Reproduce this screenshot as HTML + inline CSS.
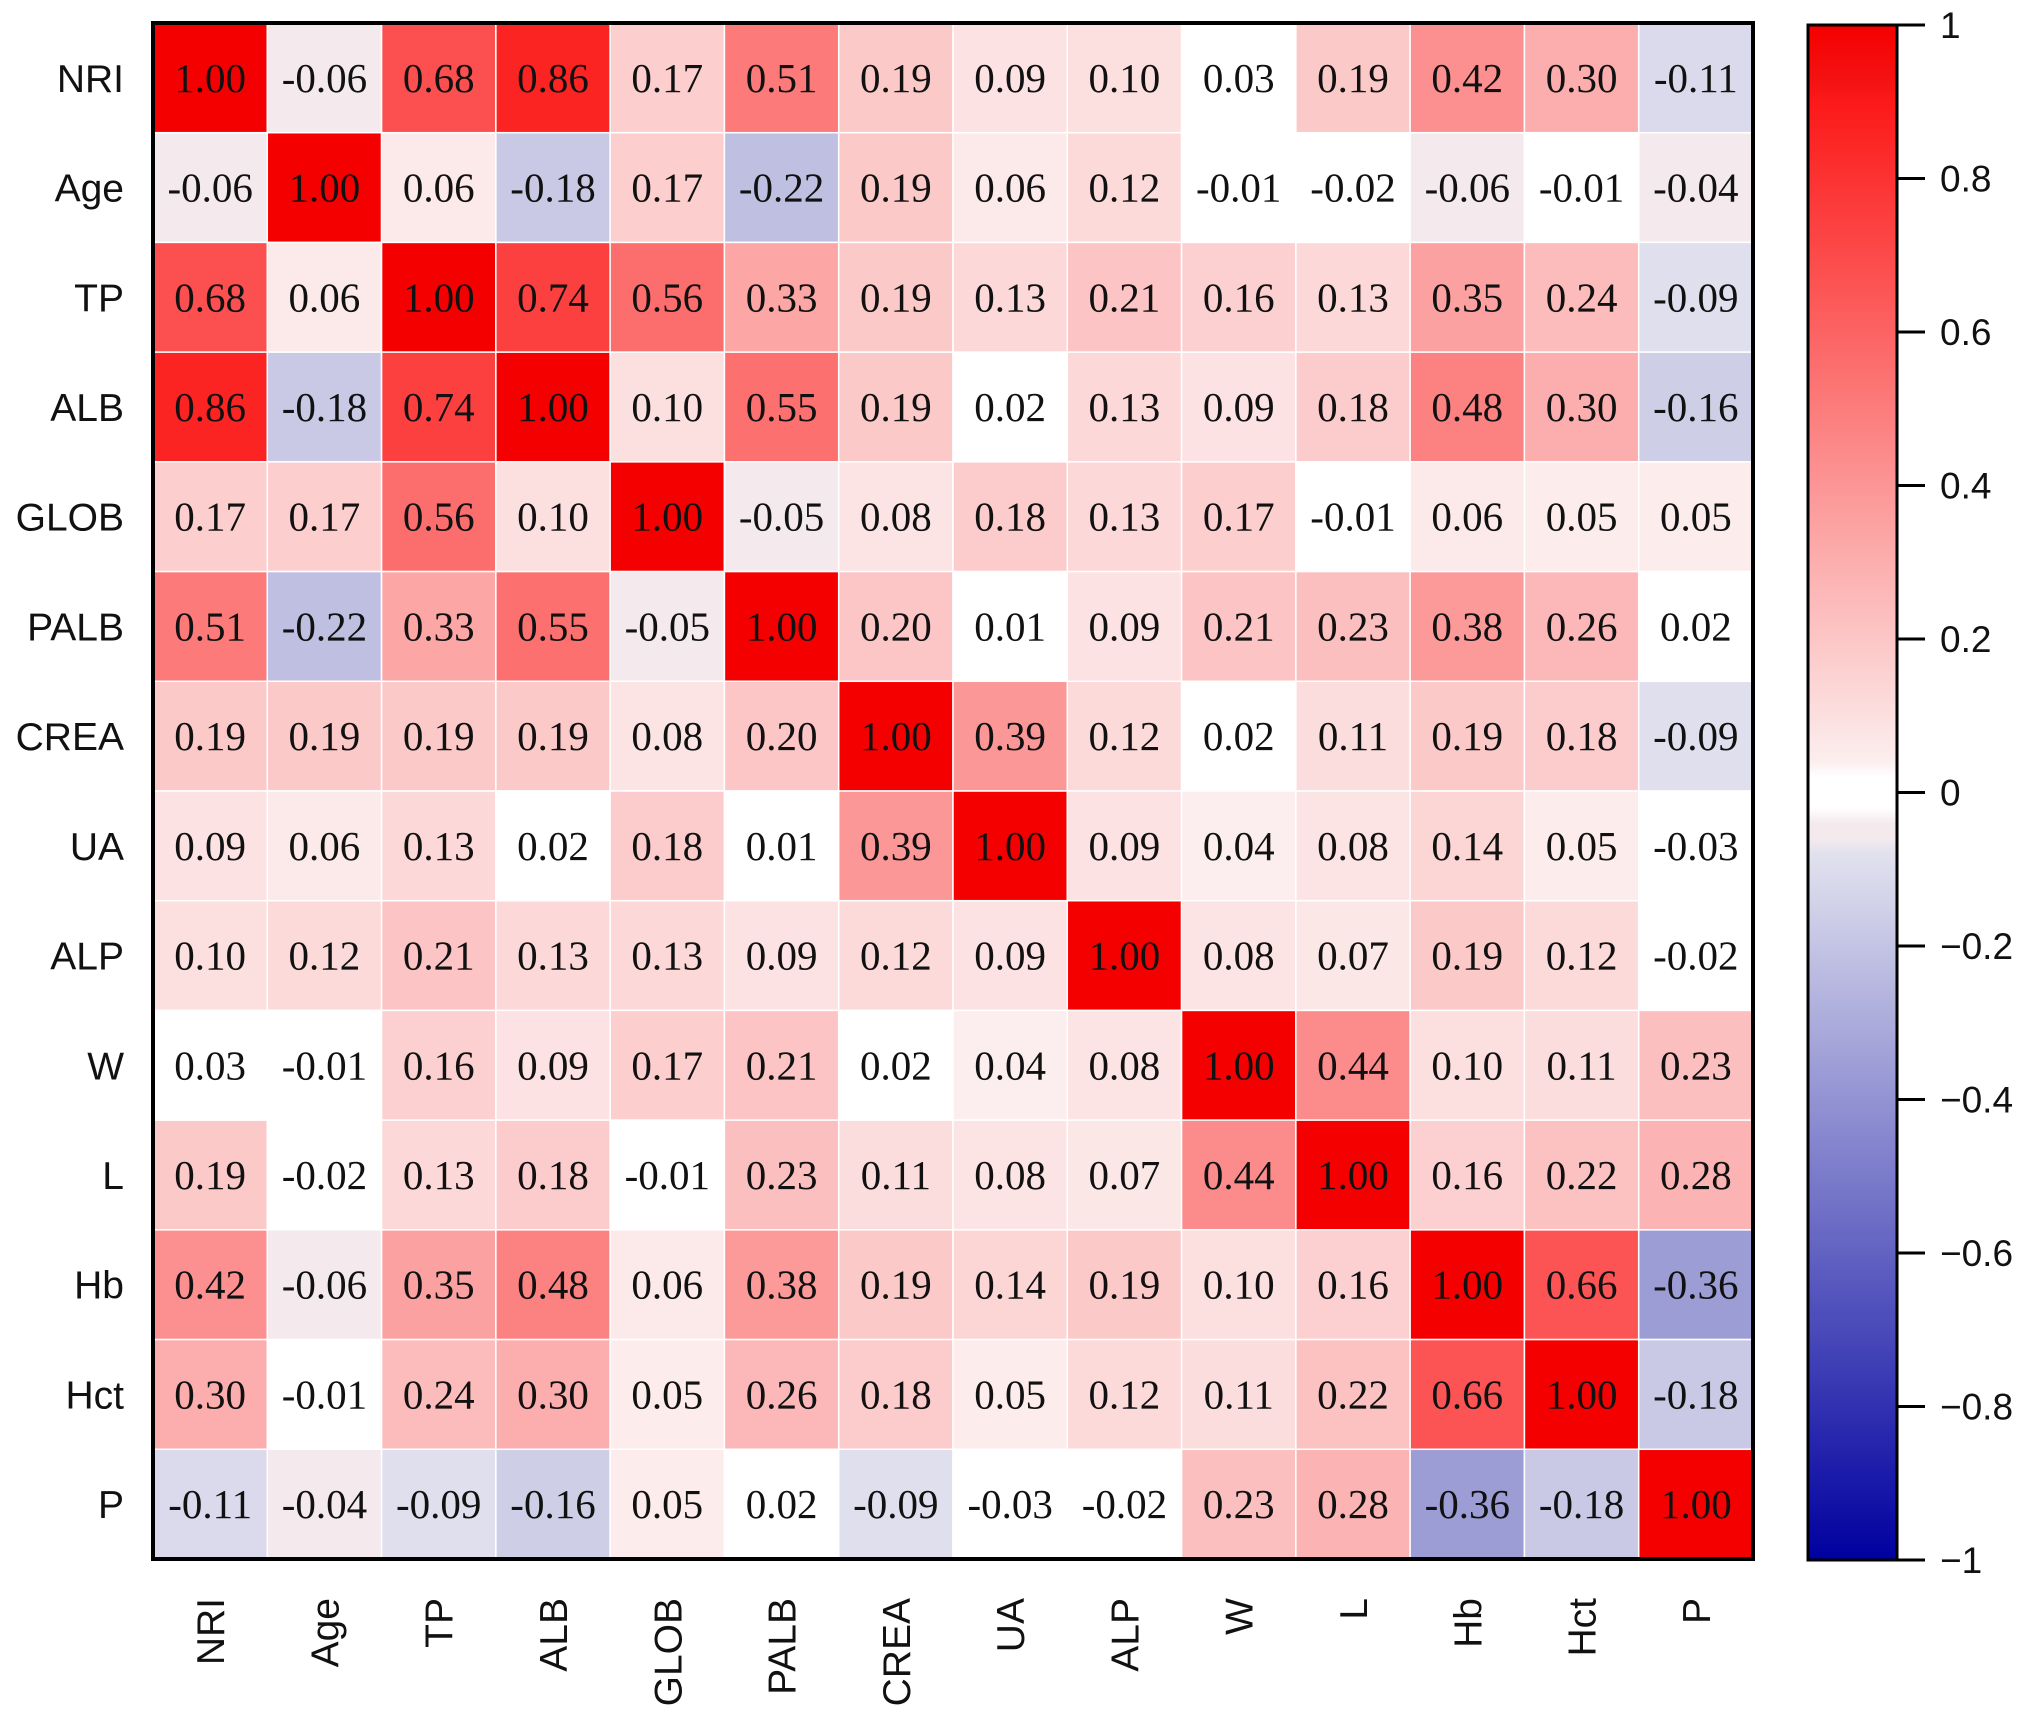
<!DOCTYPE html>
<html><head><meta charset="utf-8"><style>
html,body{margin:0;padding:0;background:#fff;}
svg{display:block;}
</style></head><body>
<svg id="chart" width="2032" height="1722" xmlns="http://www.w3.org/2000/svg"></svg>
<script>
const labels = ["NRI","Age","TP","ALB","GLOB","PALB","CREA","UA","ALP","W","L","Hb","Hct","P"];
const row0 = [1.00,-0.06,0.68,0.86,0.17,0.51,0.19,0.09,0.10,0.03,0.19,0.42,0.30,-0.11];
const row1 = [-0.06,1.00,0.06,-0.18,0.17,-0.22,0.19,0.06,0.12,-0.01,-0.02,-0.06,-0.01,-0.04];
const row2 = [0.68,0.06,1.00,0.74,0.56,0.33,0.19,0.13,0.21,0.16,0.13,0.35,0.24,-0.09];
const row3 = [0.86,-0.18,0.74,1.00,0.10,0.55,0.19,0.02,0.13,0.09,0.18,0.48,0.30,-0.16];
const row4 = [0.17,0.17,0.56,0.10,1.00,-0.05,0.08,0.18,0.13,0.17,-0.01,0.06,0.05,0.05];
const row5 = [0.51,-0.22,0.33,0.55,-0.05,1.00,0.20,0.01,0.09,0.21,0.23,0.38,0.26,0.02];
const row6 = [0.19,0.19,0.19,0.19,0.08,0.20,1.00,0.39,0.12,0.02,0.11,0.19,0.18,-0.09];
const row7 = [0.09,0.06,0.13,0.02,0.18,0.01,0.39,1.00,0.09,0.04,0.08,0.14,0.05,-0.03];
const row8 = [0.10,0.12,0.21,0.13,0.13,0.09,0.12,0.09,1.00,0.08,0.07,0.19,0.12,-0.02];
const row9 = [0.03,-0.01,0.16,0.09,0.17,0.21,0.02,0.04,0.08,1.00,0.44,0.10,0.11,0.23];
const row10 = [0.19,-0.02,0.13,0.18,-0.01,0.23,0.11,0.08,0.07,0.44,1.00,0.16,0.22,0.28];
const row11 = [0.42,-0.06,0.35,0.48,0.06,0.38,0.19,0.14,0.19,0.10,0.16,1.00,0.66,-0.36];
const row12 = [0.30,-0.01,0.24,0.30,0.05,0.26,0.18,0.05,0.12,0.11,0.22,0.66,1.00,-0.18];
const row13 = [-0.11,-0.04,-0.09,-0.16,0.05,0.02,-0.09,-0.03,-0.02,0.23,0.28,-0.36,-0.18,1.00];
const matrix = [row0,row1,row2,row3,row4,row5,row6,row7,row8,row9,row10,row11,row12,row13];
const cbTicks = [1,0.8,0.6,0.4,0.2,0,-0.2,-0.4,-0.6,-0.8,-1];
const cbTickLabels = ["1","0.8","0.6","0.4","0.2","0","\u22120.2","\u22120.4","\u22120.6","\u22120.8","\u22121"];

const NS="http://www.w3.org/2000/svg";
const svg=document.getElementById('chart');
function mk(tag,attrs){const e=document.createElementNS(NS,tag);for(const k in attrs)e.setAttribute(k,attrs[k]);svg.appendChild(e);return e;}
const L=153,R=1753,T=23,B=1559;
const n=labels.length;
const cw=(R-L)/n, ch=(B-T)/n;
const xPos=i=>L+i*cw, yPos=i=>T+i*ch;
function color(v){
  if(Math.abs(v)<0.035) return "rgb(255,255,255)";
  if(v>=0){const g=Math.round(248*(1-v));return `rgb(${v>0.9?245:252},${g},${g})`;}
  const a=-v;
  if(a<0.08) return "rgb(244,234,238)";
  return `rgb(${Math.round(245*(1-a))},${Math.round(245*(1-a))},${Math.round(245-85*a)})`;
}
for(let r=0;r<n;r++){for(let c=0;c<n;c++){
  const v=matrix[r][c];
  const rect=mk('rect',{x:xPos(c),y:yPos(r),width:cw,height:ch,fill:color(v),stroke:'#fff','stroke-width':1.5});
  
  
  const t=mk('text',{x:xPos(c)+cw/2,y:yPos(r)+ch/2+14,'text-anchor':'middle','font-family':'Liberation Serif, serif','font-size':41,fill:'#111'});
  t.textContent=v.toFixed(2);
  
  
}}
const frame=mk('rect',{x:L,y:T,width:R-L,height:B-T,fill:'none',stroke:'#000','stroke-width':4});


for(let i=0;i<n;i++){
  const yl=mk('text',{x:124,y:yPos(i)+ch/2+14,'text-anchor':'end','font-family':'Liberation Sans, sans-serif','font-size':39,fill:'#111'});
  yl.textContent=labels[i];
  
  
  const cx=xPos(i)+cw/2+14, cy=1598;
  const xl=mk('text',{x:cx,y:cy,'text-anchor':'end','font-family':'Liberation Sans, sans-serif','font-size':39,fill:'#111',transform:`rotate(-90 ${cx} ${cy})`});
  xl.textContent=labels[i];
  
  
}
// colorbar
const CL=1808,CR=1897,CT=25,CB=1560;
const defs=mk('defs',{});
const grad=document.createElementNS(NS,'linearGradient');
grad.setAttribute('id','cbg');grad.setAttribute('x1','0');grad.setAttribute('y1','0');grad.setAttribute('x2','0');grad.setAttribute('y2','1');
defs.appendChild(grad);
for(let k=0;k<=100;k++){const v=1-k/50;const s=document.createElementNS(NS,'stop');s.setAttribute('offset',(k/100));s.setAttribute('stop-color',color(v));grad.appendChild(s);}
const cb=mk('rect',{x:CL,y:CT,width:CR-CL,height:CB-CT,fill:'url(#cbg)',stroke:'#000','stroke-width':3});


const cy=v=>CT+(1-v)/2*(CB-CT);
cbTicks.forEach((v,i)=>{
  const ln=mk('line',{x1:CR,x2:CR+28,y1:cy(v),y2:cy(v),stroke:'#000','stroke-width':3});
  
  
  const t=mk('text',{x:1940,y:cy(v)+13,'font-family':'Liberation Sans, sans-serif','font-size':37,fill:'#111'});
  t.textContent=cbTickLabels[i];
  
  
});
</script>
</body></html>
